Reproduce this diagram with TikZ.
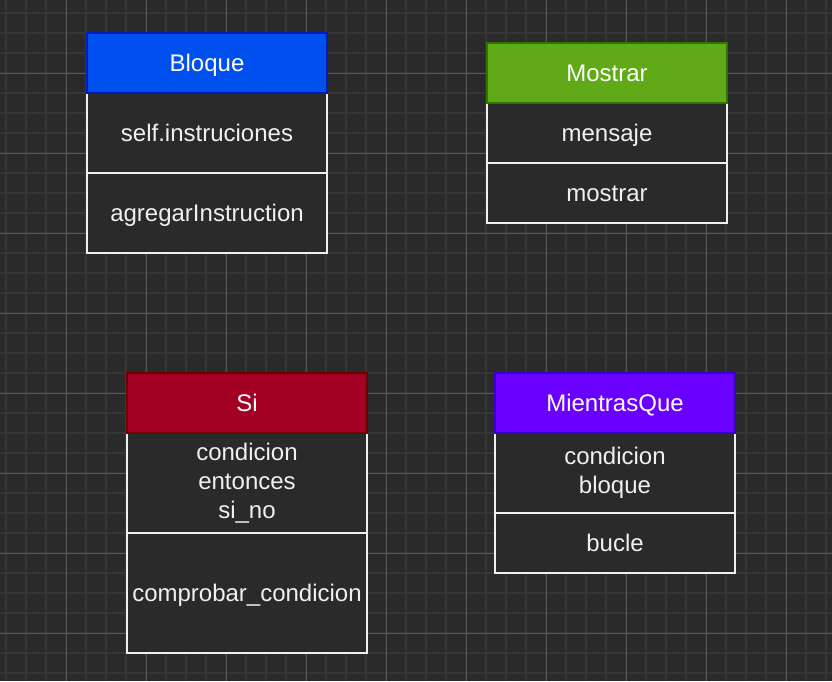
\documentclass[tikz,border=0pt]{standalone}
\usepackage{fontspec}
\setmainfont{Liberation Sans}
\usepackage{tikz}
\usetikzlibrary{positioning}
\definecolor{canvas}{HTML}{2A2A2A}
\definecolor{gridminor}{HTML}{363636}
\definecolor{gridmajor}{HTML}{565656}
\definecolor{bodyline}{HTML}{F0F0F0}
\definecolor{blueFill}{HTML}{0050EF}
\definecolor{blueLine}{HTML}{001DBC}
\definecolor{greenFill}{HTML}{60A917}
\definecolor{greenLine}{HTML}{2D7600}
\definecolor{redFill}{HTML}{A20025}
\definecolor{redLine}{HTML}{6F0000}
\definecolor{violetFill}{HTML}{6A00FF}
\definecolor{violetLine}{HTML}{3700CC}
\tikzset{
    minorgrid/.style={draw=gridminor, line width=1.8pt},
    majorgrid/.style={draw=gridmajor, line width=1pt},
    oneline/.style={text height=20pt, text depth=3.5pt},
    clshead/.style={rectangle, line width=1.5pt, outer sep=0pt, inner sep=2pt,
                    minimum width=240pt, minimum height=60pt, oneline,
                    text=white, font=\fontsize{24}{29}\selectfont},
    clsrow/.style={rectangle, draw=bodyline, fill=canvas, line width=1.5pt,
                   outer sep=0pt, inner sep=2pt, minimum width=240pt,
                   align=center, text=bodyline,
                   font=\fontsize{24}{29}\selectfont},
}

\begin{document}
\begin{tikzpicture}[x=1pt, y=-1pt]
    \useasboundingbox (0,0) rectangle (832,681);
    \fill[canvas] (0,0) rectangle (832,681);
    % grid
    \foreach \x in {6,26,...,826}
        \draw[minorgrid] (\x,0) -- (\x,681);
    \foreach \y in {13,33,...,673}
        \draw[minorgrid] (0,\y) -- (832,\y);
    \foreach \x in {66,146,...,786}
        \draw[majorgrid] (\x,0) -- (\x,681);
    \foreach \y in {73,153,...,633}
        \draw[majorgrid] (0,\y) -- (832,\y);

    % Bloque
    \node[clsrow, oneline, minimum height=80pt] (bloqueAttr) at (207,133)
        {self.instruciones};
    \node[clshead, fill=blueFill, draw=blueLine, above=0pt of bloqueAttr] (bloque)
        {Bloque};
    \node[clsrow, oneline, minimum height=80pt, below=0pt of bloqueAttr] (bloqueOps)
        {agregarInstruction};

    % Mostrar
    \node[clsrow, oneline, minimum height=60pt] (mostrarAttr) at (607,133)
        {mensaje};
    \node[clshead, fill=greenFill, draw=greenLine, above=0pt of mostrarAttr] (mostrar)
        {Mostrar};
    \node[clsrow, oneline, minimum height=60pt, below=0pt of mostrarAttr] (mostrarOps)
        {mostrar};

    % Si
    \node[clsrow, minimum height=100pt] (siAttr) at (247,483)
        {condicion\\
        entonces\\
        si\_no};
    \node[clshead, fill=redFill, draw=redLine, above=0pt of siAttr] (si)
        {Si};
    \node[clsrow, oneline, minimum height=120pt, below=0pt of siAttr] (siOps)
        {comprobar\_condicion};

    % MientrasQue
    \node[clsrow, minimum height=80pt] (mientrasAttr) at (615,473)
        {condicion\\
        bloque};
    \node[clshead, fill=violetFill, draw=violetLine, above=0pt of mientrasAttr] (mientras)
        {MientrasQue};
    \node[clsrow, oneline, minimum height=60pt, below=0pt of mientrasAttr] (mientrasOps)
        {bucle};
\end{tikzpicture}
\end{document}
